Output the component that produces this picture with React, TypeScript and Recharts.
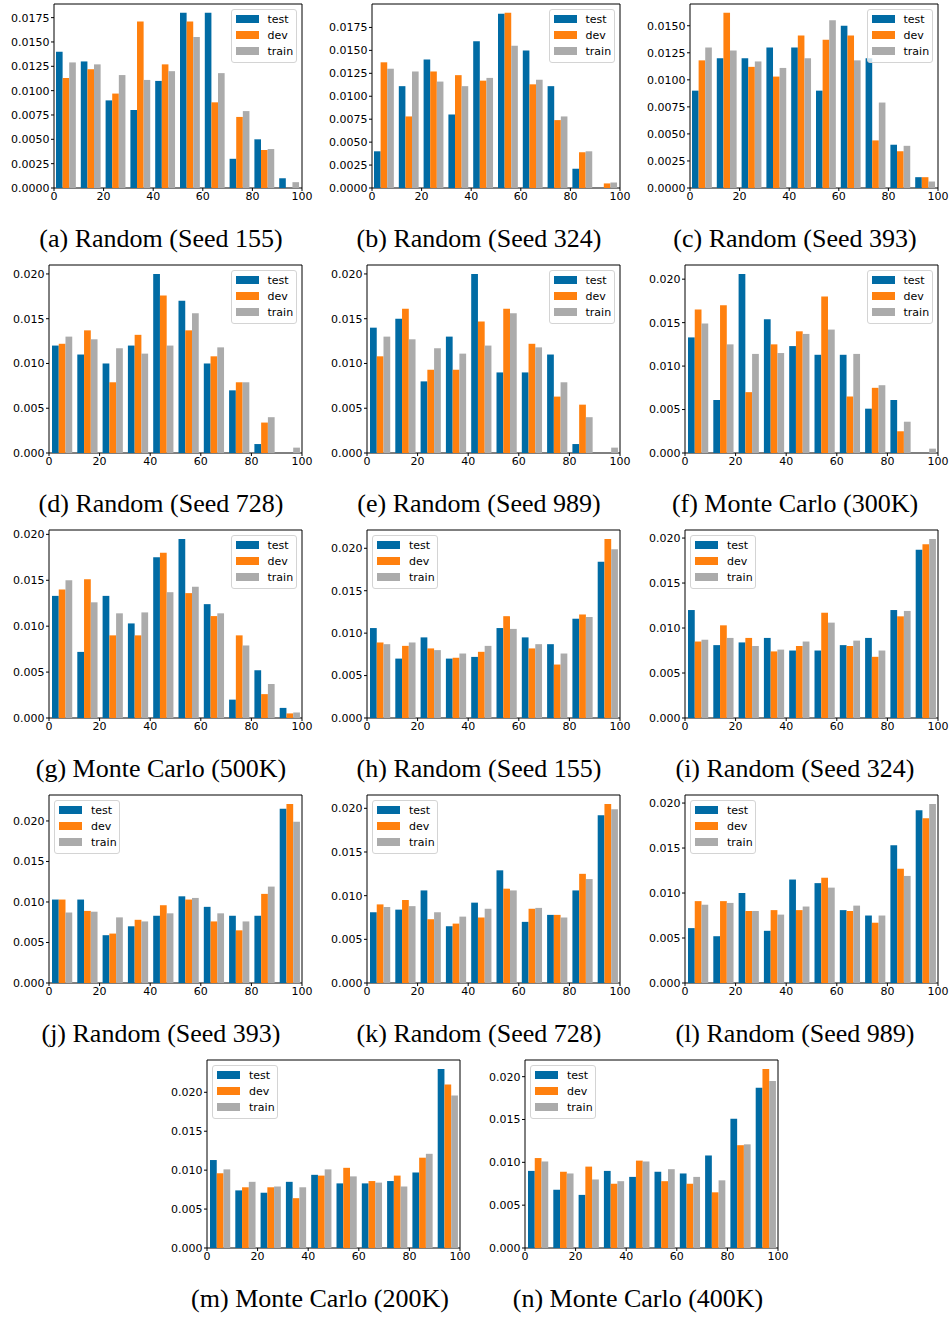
import { BarChart, Bar, XAxis, YAxis, Legend, ReferenceArea } from 'recharts'

// histogram bins are 10 wide over 0..100, bars sit at the bin centres
const BIN_CENTERS = [5, 15, 25, 35, 45, 55, 65, 75, 85, 95]
const X_TICKS = [0, 20, 40, 60, 80, 100]
const SERIES = ['test', 'dev', 'train']
const COLORS: Record<string, string> = { test: '#006BA4', dev: '#FF800E', train: '#ABABAB' }

const TICKS_0175 = [0, 0.0025, 0.005, 0.0075, 0.01, 0.0125, 0.015, 0.0175]
const TICKS_0150 = [0, 0.0025, 0.005, 0.0075, 0.01, 0.0125, 0.015]
const TICKS_020 = [0, 0.005, 0.01, 0.015, 0.02]

const CAPTIONS = [
  '(a) Random (Seed 155)',
  '(b) Random (Seed 324)',
  '(c) Random (Seed 393)',
  '(d) Random (Seed 728)',
  '(e) Random (Seed 989)',
  '(f) Monte Carlo (300K)',
  '(g) Monte Carlo (500K)',
  '(h) Random (Seed 155)',
  '(i) Random (Seed 324)',
  '(j) Random (Seed 393)',
  '(k) Random (Seed 728)',
  '(l) Random (Seed 989)',
  '(m) Monte Carlo (200K)',
  '(n) Monte Carlo (400K)',
]

const aTest = [0.0140, 0.0130, 0.0090, 0.0080, 0.0110, 0.0180, 0.0180, 0.0030, 0.0050, 0.0010]
const aDev = [0.0113, 0.0122, 0.0097, 0.0171, 0.0127, 0.0171, 0.0088, 0.0073, 0.0039, 0]
const aTrain = [0.0129, 0.0127, 0.0116, 0.0111, 0.0120, 0.0155, 0.0118, 0.0079, 0.0040, 0.0006]

const bTest = [0.0040, 0.0111, 0.0140, 0.0080, 0.0160, 0.0190, 0.0150, 0.0111, 0.0021, 0]
const bDev = [0.0137, 0.0078, 0.0127, 0.0123, 0.0117, 0.0191, 0.0113, 0.0074, 0.0039, 0.0005]
const bTrain = [0.0130, 0.0127, 0.0116, 0.0111, 0.0120, 0.0155, 0.0118, 0.0078, 0.0040, 0.0006]

const cTest = [0.0090, 0.0120, 0.0120, 0.0130, 0.0130, 0.0090, 0.0150, 0.0120, 0.0040, 0.0010]
const cDev = [0.0118, 0.0162, 0.0112, 0.0103, 0.0141, 0.0137, 0.0141, 0.0044, 0.0034, 0.0010]
const cTrain = [0.0130, 0.0127, 0.0117, 0.0111, 0.0120, 0.0155, 0.0118, 0.0079, 0.0039, 0.0006]

const dTest = [0.0120, 0.0110, 0.0100, 0.0120, 0.0200, 0.0170, 0.0100, 0.0070, 0.0010, 0]
const dDev = [0.0122, 0.0137, 0.0079, 0.0132, 0.0176, 0.0137, 0.0108, 0.0079, 0.0034, 0]
const dTrain = [0.0130, 0.0127, 0.0117, 0.0111, 0.0120, 0.0156, 0.0118, 0.0079, 0.0040, 0.0006]

const eTest = [0.0140, 0.0150, 0.0080, 0.0130, 0.0200, 0.0090, 0.0090, 0.0110, 0.0010, 0]
const eDev = [0.0108, 0.0161, 0.0093, 0.0093, 0.0147, 0.0161, 0.0122, 0.0063, 0.0054, 0]
const eTrain = [0.0130, 0.0127, 0.0117, 0.0111, 0.0120, 0.0156, 0.0118, 0.0079, 0.0040, 0.0006]

const fTest = [0.0133, 0.0061, 0.0206, 0.0154, 0.0123, 0.0113, 0.0113, 0.0051, 0.0061, 0]
const fDev = [0.0165, 0.0170, 0.0070, 0.0125, 0.0140, 0.0180, 0.0065, 0.0075, 0.0025, 0]
const fTrain = [0.0149, 0.0125, 0.0114, 0.0115, 0.0137, 0.0142, 0.0114, 0.0078, 0.0036, 0.0005]

const gTest = [0.0133, 0.0072, 0.0133, 0.0103, 0.0175, 0.0195, 0.0124, 0.0020, 0.0052, 0.0011]
const gDev = [0.0140, 0.0151, 0.0090, 0.0090, 0.0180, 0.0136, 0.0111, 0.0090, 0.0026, 0.0005]
const gTrain = [0.0150, 0.0126, 0.0114, 0.0115, 0.0137, 0.0143, 0.0114, 0.0079, 0.0037, 0.0006]

const hTest = [0.0106, 0.0070, 0.0095, 0.0070, 0.0072, 0.0106, 0.0095, 0.0087, 0.0117, 0.0184]
const hDev = [0.0089, 0.0085, 0.0082, 0.0071, 0.0078, 0.0120, 0.0082, 0.0063, 0.0122, 0.0211]
const hTrain = [0.0087, 0.0089, 0.0080, 0.0076, 0.0085, 0.0105, 0.0087, 0.0076, 0.0119, 0.0199]

const iTest = [0.0120, 0.0081, 0.0084, 0.0089, 0.0075, 0.0075, 0.0081, 0.0089, 0.0120, 0.0187]
const iDev = [0.0085, 0.0103, 0.0089, 0.0074, 0.0080, 0.0117, 0.0080, 0.0068, 0.0113, 0.0193]
const iTrain = [0.0087, 0.0089, 0.0080, 0.0076, 0.0085, 0.0106, 0.0086, 0.0075, 0.0119, 0.0199]

const jTest = [0.0103, 0.0103, 0.0059, 0.0070, 0.0083, 0.0107, 0.0094, 0.0083, 0.0083, 0.0215]
const jDev = [0.0103, 0.0089, 0.0061, 0.0078, 0.0096, 0.0103, 0.0076, 0.0065, 0.0110, 0.0221]
const jTrain = [0.0087, 0.0088, 0.0081, 0.0076, 0.0086, 0.0105, 0.0086, 0.0076, 0.0119, 0.0199]

const kTest = [0.0081, 0.0084, 0.0106, 0.0065, 0.0092, 0.0129, 0.0070, 0.0078, 0.0106, 0.0192]
const kDev = [0.0090, 0.0095, 0.0073, 0.0068, 0.0075, 0.0108, 0.0085, 0.0078, 0.0125, 0.0205]
const kTrain = [0.0087, 0.0088, 0.0081, 0.0076, 0.0085, 0.0106, 0.0086, 0.0075, 0.0119, 0.0199]

const lTest = [0.0061, 0.0052, 0.0100, 0.0058, 0.0115, 0.0111, 0.0081, 0.0075, 0.0153, 0.0192]
const lDev = [0.0091, 0.0091, 0.0080, 0.0081, 0.0081, 0.0117, 0.0080, 0.0067, 0.0127, 0.0183]
const lTrain = [0.0087, 0.0089, 0.0080, 0.0076, 0.0085, 0.0106, 0.0086, 0.0075, 0.0119, 0.0199]

const mTest = [0.0113, 0.0074, 0.0071, 0.0085, 0.0094, 0.0083, 0.0083, 0.0086, 0.0097, 0.0230]
const mDev = [0.0096, 0.0078, 0.0078, 0.0064, 0.0093, 0.0103, 0.0086, 0.0093, 0.0116, 0.0210]
const mTrain = [0.0101, 0.0085, 0.0079, 0.0078, 0.0101, 0.0092, 0.0084, 0.0079, 0.0121, 0.0196]

const nTest = [0.0090, 0.0068, 0.0062, 0.0090, 0.0083, 0.0089, 0.0087, 0.0108, 0.0151, 0.0187]
const nDev = [0.0105, 0.0089, 0.0095, 0.0075, 0.0102, 0.0078, 0.0075, 0.0065, 0.0120, 0.0209]
const nTrain = [0.0101, 0.0087, 0.0080, 0.0078, 0.0101, 0.0092, 0.0083, 0.0079, 0.0121, 0.0195]

const Y_AXIS_W = 48
const TOP_PAD = 4
const RIGHT_PAD = 14
const X_AXIS_H = 22
const LEGEND_W = 66
const LEGEND_H = 54

type Panel = {
  caption: string
  test: number[]
  dev: number[]
  train: number[]
  yTicks: number[]
  digits: number
  legend: 'left' | 'right'
  // plot-area box on the page
  x: number
  y: number
  w: number
  h: number
  // caption centre
  cx: number
  cy: number
}

const ROW_Y = [4, 265, 530, 795, 1060]
const CAP_Y = [239, 504, 769, 1034, 1299]
const COL_X_TOP = [54, 372, 690]
const COL_X = [49, 367, 685]
const CAP_X = [161, 479, 795]

const series = [
  [aTest, aDev, aTrain], [bTest, bDev, bTrain], [cTest, cDev, cTrain],
  [dTest, dDev, dTrain], [eTest, eDev, eTrain], [fTest, fDev, fTrain],
  [gTest, gDev, gTrain], [hTest, hDev, hTrain], [iTest, iDev, iTrain],
  [jTest, jDev, jTrain], [kTest, kDev, kTrain], [lTest, lDev, lTrain],
  [mTest, mDev, mTrain], [nTest, nDev, nTrain],
]

const panels: Panel[] = series.map(([test, dev, train], i) => {
  const row = Math.floor(i / 3)
  const col = i % 3
  const last = i >= 12
  const yTicks = i < 2 ? TICKS_0175 : i === 2 ? TICKS_0150 : TICKS_020
  return {
    caption: CAPTIONS[i],
    test, dev, train,
    yTicks,
    digits: i < 3 ? 4 : 3,
    legend: i < 7 ? 'right' : 'left',
    x: last ? [207, 525][i - 12] : row === 0 ? COL_X_TOP[col] : COL_X[col],
    y: ROW_Y[row],
    w: row === 0 ? 248 : 253,
    h: row === 0 ? 184 : 188,
    cx: last ? [320, 638][i - 12] : CAP_X[col],
    cy: CAP_Y[row],
  }
})

function HistLegend() {
  return (
    <div
      style={{
        width: LEGEND_W,
        height: LEGEND_H,
        boxSizing: 'border-box',
        border: '1px solid #d4d4d4',
        borderRadius: 3,
        background: 'rgba(255,255,255,0.8)',
        padding: '1px 0 0 4px',
        fontFamily: 'DejaVu Sans',
        fontSize: 11,
        color: '#000',
      }}
    >
      {SERIES.map(s => (
        <div key={s} style={{ display: 'flex', alignItems: 'center', height: 16 }}>
          <span style={{ display: 'inline-block', width: 23, height: 7.5, background: COLORS[s], marginRight: 9 }} />
          <span>{s}</span>
        </div>
      ))}
    </div>
  )
}

function HistPanel({ p }: { p: Panel }) {
  const data = BIN_CENTERS.map((x, i) => ({ x, test: p.test[i], dev: p.dev[i], train: p.train[i] }))
  const yMax = Math.max(...p.test, ...p.dev, ...p.train) * 1.05
  const chartW = Y_AXIS_W + p.w + RIGHT_PAD
  const chartH = TOP_PAD + p.h + X_AXIS_H
  const barSize = (p.w / 10) * 0.8 / 3
  const legendLeft = p.legend === 'left' ? Y_AXIS_W + 5 : Y_AXIS_W + p.w - 5.5 - LEGEND_W
  const tick = { fontSize: 11, fill: '#000', fontFamily: 'DejaVu Sans' }

  return (
    <div style={{ position: 'absolute', left: p.x - Y_AXIS_W, top: p.y - TOP_PAD }}>
      <BarChart
        width={chartW}
        height={chartH}
        data={data}
        margin={{ top: TOP_PAD, right: RIGHT_PAD, left: 0, bottom: 0 }}
        barGap={0}
        barSize={barSize}
      >
        <XAxis
          type="number"
          dataKey="x"
          domain={[0, 100]}
          ticks={X_TICKS}
          interval={0}
          height={X_AXIS_H}
          axisLine={false}
          tickSize={3}
          tickMargin={1.5}
          tickLine={{ stroke: '#000' }}
          tick={tick}
        />
        <YAxis
          type="number"
          domain={[0, yMax]}
          ticks={p.yTicks}
          interval={0}
          width={Y_AXIS_W}
          axisLine={false}
          tickSize={3}
          tickMargin={1.5}
          tickLine={{ stroke: '#000' }}
          tick={tick}
          tickFormatter={(v: number) => v.toFixed(p.digits)}
        />
        {SERIES.map(s => (
          <Bar key={s} dataKey={s} name={s} fill={COLORS[s]} isAnimationActive={false} />
        ))}
        <ReferenceArea x1={0} x2={100} y1={0} y2={yMax} fill="none" stroke="#000" strokeWidth={1} />
        <Legend
          layout="vertical"
          align="center"
          verticalAlign="middle"
          wrapperStyle={{ left: legendLeft, top: TOP_PAD + 5, width: LEGEND_W }}
          content={() => <HistLegend />}
        />
      </BarChart>
    </div>
  )
}

export default function App() {
  return (
    <div style={{ position: 'absolute', left: 0, top: 0, width: 952, height: 1318, background: '#fff' }}>
      {panels.map(p => (
        <HistPanel key={p.caption} p={p} />
      ))}
      {panels.map(p => (
        <div
          key={p.caption + '-cap'}
          style={{
            position: 'absolute',
            left: p.cx - 170,
            top: p.cy - 16,
            width: 340,
            height: 32,
            lineHeight: '32px',
            textAlign: 'center',
            fontFamily: "'Liberation Serif', 'DejaVu Serif', serif",
            fontSize: 26,
            color: '#000',
            whiteSpace: 'nowrap',
          }}
        >
          {p.caption}
        </div>
      ))}
    </div>
  )
}
